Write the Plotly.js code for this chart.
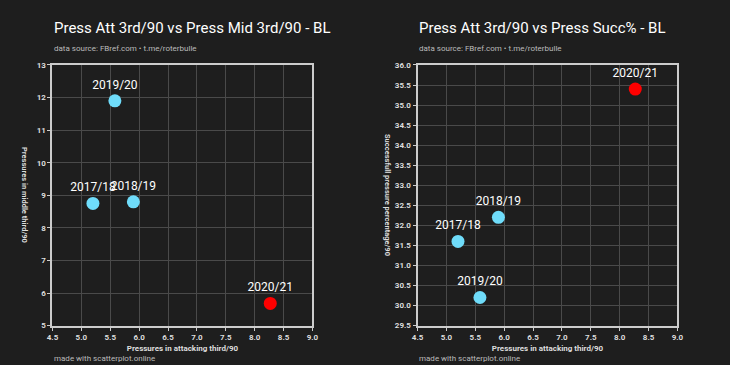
<!DOCTYPE html>
<html><head><meta charset="utf-8">
<script src="https://cdn.plot.ly/plotly-3.0.1.min.js"></script>
<style>html,body{margin:0;padding:0;background:#1e1e1e;}#c{width:730px;height:365px;}</style>
</head><body><div id="c"></div>
<script>
const seasons = ["2017/18","2018/19","2019/20","2020/21"];
const pressAtt = [5.2, 5.9, 5.58, 8.27];
const pressMid = [8.75, 8.8, 11.9, 5.68];
const pressSucc = [31.6, 32.2, 30.2, 35.4];
const colors = ["#6fdcfa","#6fdcfa","#6fdcfa","#ff0000"];

const font = "Roboto, 'Noto Sans', sans-serif";
const traceBase = {
  mode: "markers+text", type: "scatter", text: seasons, textposition: "top center",
  textfont: {family: font, size: 12, color: "#ffffff"},
  marker: {size: 13, color: colors, line: {width: 0}},
  cliponaxis: false, hoverinfo: "none", showlegend: false
};
const traces = [
  Object.assign({}, traceBase, {x: pressAtt, y: pressMid, xaxis: "x", yaxis: "y"}),
  Object.assign({}, traceBase, {x: pressAtt, y: pressSucc, xaxis: "x2", yaxis: "y2"})
];
const axBase = {
  showgrid: true, gridcolor: "#4a4a4a", gridwidth: 1, zeroline: false,
  showline: true, linecolor: "#cccccc", linewidth: 2, mirror: true,
  ticks: "outside", ticklen: 3, tickcolor: "#cccccc", tickwidth: 1,
  tickfont: {family: font, size: 8, color: "#dddddd", weight: "bold"}
};
const xTitle = {text: "Pressures in attacking third/90", font: {family: font, size: 8, color: "#dddddd", weight: "bold"}, standoff: 4};
const yTitleFont = {family: font, size: 7.5, color: "#dddddd", weight: "bold"};
const layout = {
  width: 730, height: 365,
  paper_bgcolor: "#1e1e1e", plot_bgcolor: "#1e1e1e",
  margin: {l: 0, r: 0, t: 0, b: 0},
  xaxis: Object.assign({}, axBase, {domain: [0.0719, 0.428], range: [4.5, 9.0], dtick: 0.5, tickformat: ".1f", anchor: "y", title: xTitle}),
  yaxis: Object.assign({}, axBase, {domain: [0.108, 0.822], range: [5, 13], dtick: 1, anchor: "x"}),
  xaxis2: Object.assign({}, axBase, {domain: [0.572, 0.928], range: [4.5, 9.0], dtick: 0.5, tickformat: ".1f", anchor: "y2", title: xTitle}),
  yaxis2: Object.assign({}, axBase, {domain: [0.108, 0.822], range: [29.5, 36.0], dtick: 0.5, tickformat: ".1f", anchor: "x2"}),
  annotations: [
    {text: "Press Att 3rd/90 vs Press Mid 3rd/90 - BL", x: 52/730, y: 1-28/365, xref: "paper", yref: "paper", xanchor: "left", yanchor: "middle", showarrow: false, font: {family: font, size: 15, color: "#ffffff"}},
    {text: "data source: FBref.com • t.me/roterbulle", x: 52/730, y: 1-48/365, xref: "paper", yref: "paper", xanchor: "left", yanchor: "middle", showarrow: false, font: {family: font, size: 8, color: "#bbbbbb"}},
    {text: "made with scatterplot.online", x: 52/730, y: 1-358/365, xref: "paper", yref: "paper", xanchor: "left", yanchor: "middle", showarrow: false, font: {family: font, size: 8, color: "#bbbbbb"}},
    {text: "Pressures in middle third/90", x: 25/730, y: 1-195/365, xref: "paper", yref: "paper", xanchor: "center", yanchor: "middle", textangle: 90, showarrow: false, font: yTitleFont},
    {text: "Press Att 3rd/90 vs Press Succ% - BL", x: 417/730, y: 1-28/365, xref: "paper", yref: "paper", xanchor: "left", yanchor: "middle", showarrow: false, font: {family: font, size: 15, color: "#ffffff"}},
    {text: "data source: FBref.com • t.me/roterbulle", x: 417/730, y: 1-48/365, xref: "paper", yref: "paper", xanchor: "left", yanchor: "middle", showarrow: false, font: {family: font, size: 8, color: "#bbbbbb"}},
    {text: "made with scatterplot.online", x: 417/730, y: 1-358/365, xref: "paper", yref: "paper", xanchor: "left", yanchor: "middle", showarrow: false, font: {family: font, size: 8, color: "#bbbbbb"}},
    {text: "Successfull pressure percentage/90", x: 388/730, y: 1-195/365, xref: "paper", yref: "paper", xanchor: "center", yanchor: "middle", textangle: 90, showarrow: false, font: yTitleFont}
  ]
};
Plotly.newPlot("c", traces, layout, {displayModeBar: false, staticPlot: true});
</script></body></html>
